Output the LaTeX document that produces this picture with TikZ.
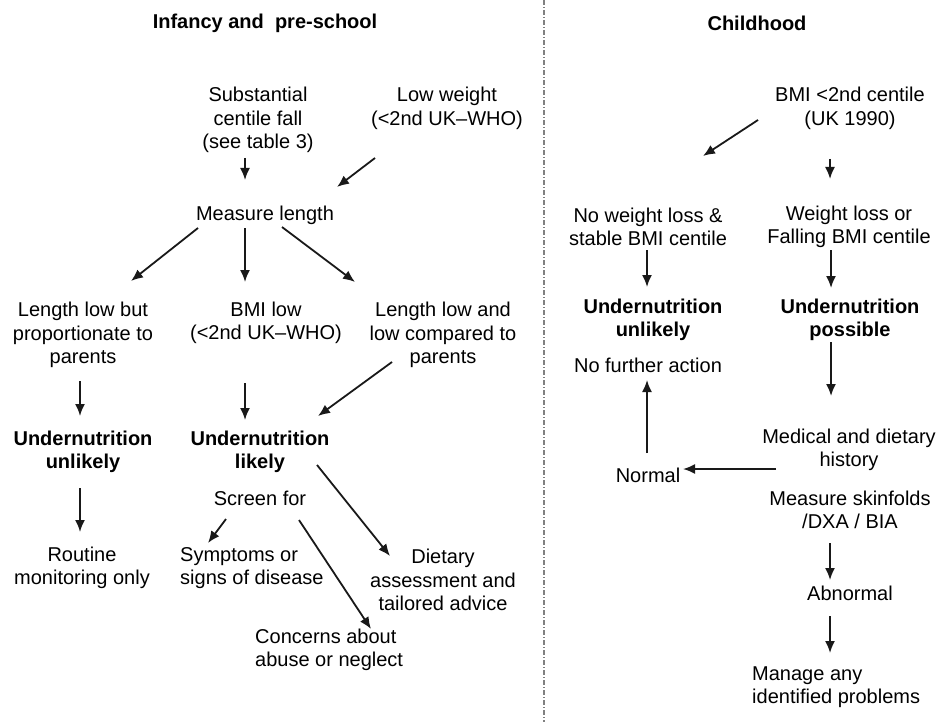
\documentclass[tikz,border=0pt]{standalone}
\usepackage{fontspec}
\setmainfont{Liberation Sans}
\usepackage{tikz}
\usetikzlibrary{arrows.meta,calc}

\begin{document}
\begin{tikzpicture}[x=1pt,y=-1pt,>={Latex[length=12pt,width=10pt]},
    lbl/.style={align=center,inner sep=0pt,font=\fontsize{20}{23.5}\selectfont},
    res/.style={align=center,inner sep=0pt,font=\fontsize{20}{23}\selectfont\bfseries},
    hd/.style={inner sep=0pt,font=\fontsize{20}{24}\selectfont\bfseries},
    arr/.style={->,line width=1.8pt,black!90},
    divider/.style={gray,line width=1.4pt,dash pattern=on 5pt off 2pt on 1pt off 2pt}]
    \useasboundingbox (0,0) rectangle (939,722);
    \draw[divider] (544,0)--(544,722);
    \node[hd] (infhd) at (265,23) {Infancy and\ \ pre-school};
    \node[hd] (chhd) at (757,23) {Childhood};
    \node[lbl] (fall) at (258,120) {Substantial\\centile fall\\(see table 3)};
    \node[lbl] (lowwt) at (447,108.5) {Low weight\\(<2nd UK–WHO)};
    \node[lbl] (measure) at (265,215) {Measure length};
    \node[lbl] (prop) at (83,335) {Length low but\\proportionate to\\parents};
    \node[lbl] (bmilow) at (266,323) {BMI low\\(<2nd UK–WHO)};
    \node[lbl] (lencomp) at (443,335) {Length low and\\low compared to\\parents};
    \node[res] (unlikelyA) at (83,452) {Undernutrition\\unlikely};
    \node[res] (likely) at (260,452) {Undernutrition\\likely};
    \node[lbl] (screen) at (260,498) {Screen for};
    \node[lbl] (routine) at (82,568) {Routine\\monitoring only};
    \node[lbl,align=left,anchor=west] (symp) at (180,568) {Symptoms or\\signs of disease};
    \node[lbl] (dietary) at (443,580) {Dietary\\assessment and\\tailored advice};
    \node[lbl,align=left,anchor=west] (concerns) at (255,650) {Concerns about\\abuse or neglect};
    \node[lbl] (bmic) at (850,108.5) {BMI <2nd centile\\(UK 1990)};
    \node[lbl] (nowl) at (648,227) {No weight loss \&\\stable BMI centile};
    \node[lbl] (wl) at (849,227) {Weight loss or\\Falling BMI centile};
    \node[res] (unlikelyB) at (653,320) {Undernutrition\\unlikely};
    \node[res] (possible) at (850,320) {Undernutrition\\possible};
    \node[lbl] (nofurther) at (648,365) {No further action};
    \node[lbl] (medical) at (849,450) {Medical and dietary\\history};
    \node[lbl] (normal) at (648,475) {Normal};
    \node[lbl] (skin) at (850,510) {Measure skinfolds\\/DXA / BIA};
    \node[lbl] (abnormal) at (850,593) {Abnormal};
    \node[lbl,align=left,anchor=west] (manage) at (752,687) {Manage any\\identified problems};
    \draw[arr] ($(fall)+(-13,38)$)--($(measure)+(-20,-35)$);
    \draw[arr] ($(lowwt)+(-72,49.5)$)--($(measure)+(72,-28)$);
    \draw[arr] ($(measure)+(-67,13)$)--($(prop)+(48,-54)$);
    \draw[arr] ($(measure)+(-20,13)$)--($(bmilow)+(-21,-41)$);
    \draw[arr] ($(measure)+(17,12)$)--($(lencomp)+(-88,-53)$);
    \draw[arr] ($(prop)+(-3,46)$)--($(unlikelyA)+(-3,-36)$);
    \draw[arr] ($(bmilow)+(-21,60)$)--($(likely)+(-15,-32)$);
    \draw[arr] ($(lencomp)+(-51,27)$)--($(likely)+(58,-36)$);
    \draw[arr] ($(unlikelyA)+(-3,36)$)--($(routine)+(-2,-36)$);
    \draw[arr] ($(screen)+(-34,21)$)--($(symp.west)+(28,-25)$);
    \draw[arr] ($(likely)+(57,13)$)--($(dietary)+(-53,-24)$);
    \draw[arr] ($(screen)+(39,22)$)--($(concerns.west)+(116,-21)$);
    \draw[arr] ($(bmic)+(-92,11.5)$)--($(nowl)+(55,-71)$);
    \draw[arr] ($(bmic)+(-20,50.5)$)--($(wl)+(-19,-48)$);
    \draw[arr] ($(nowl)+(-1,23)$)--($(unlikelyB)+(-6,-33)$);
    \draw[arr] ($(wl)+(-18,23)$)--($(possible)+(-19,-32)$);
    \draw[arr] ($(possible)+(-19,22)$)--($(medical)+(-18,-54)$);
    \draw[arr] ($(medical)+(-73,19)$)--($(normal)+(35,-6)$);
    \draw[arr] ($(normal)+(-1,-22)$)--($(nofurther)+(-1,15)$);
    \draw[arr] ($(skin)+(-20,33)$)--($(abnormal)+(-20,-13)$);
    \draw[arr] ($(abnormal)+(-20,23)$)--($(manage.west)+(78,-34)$);
  \end{tikzpicture}
\end{document}
